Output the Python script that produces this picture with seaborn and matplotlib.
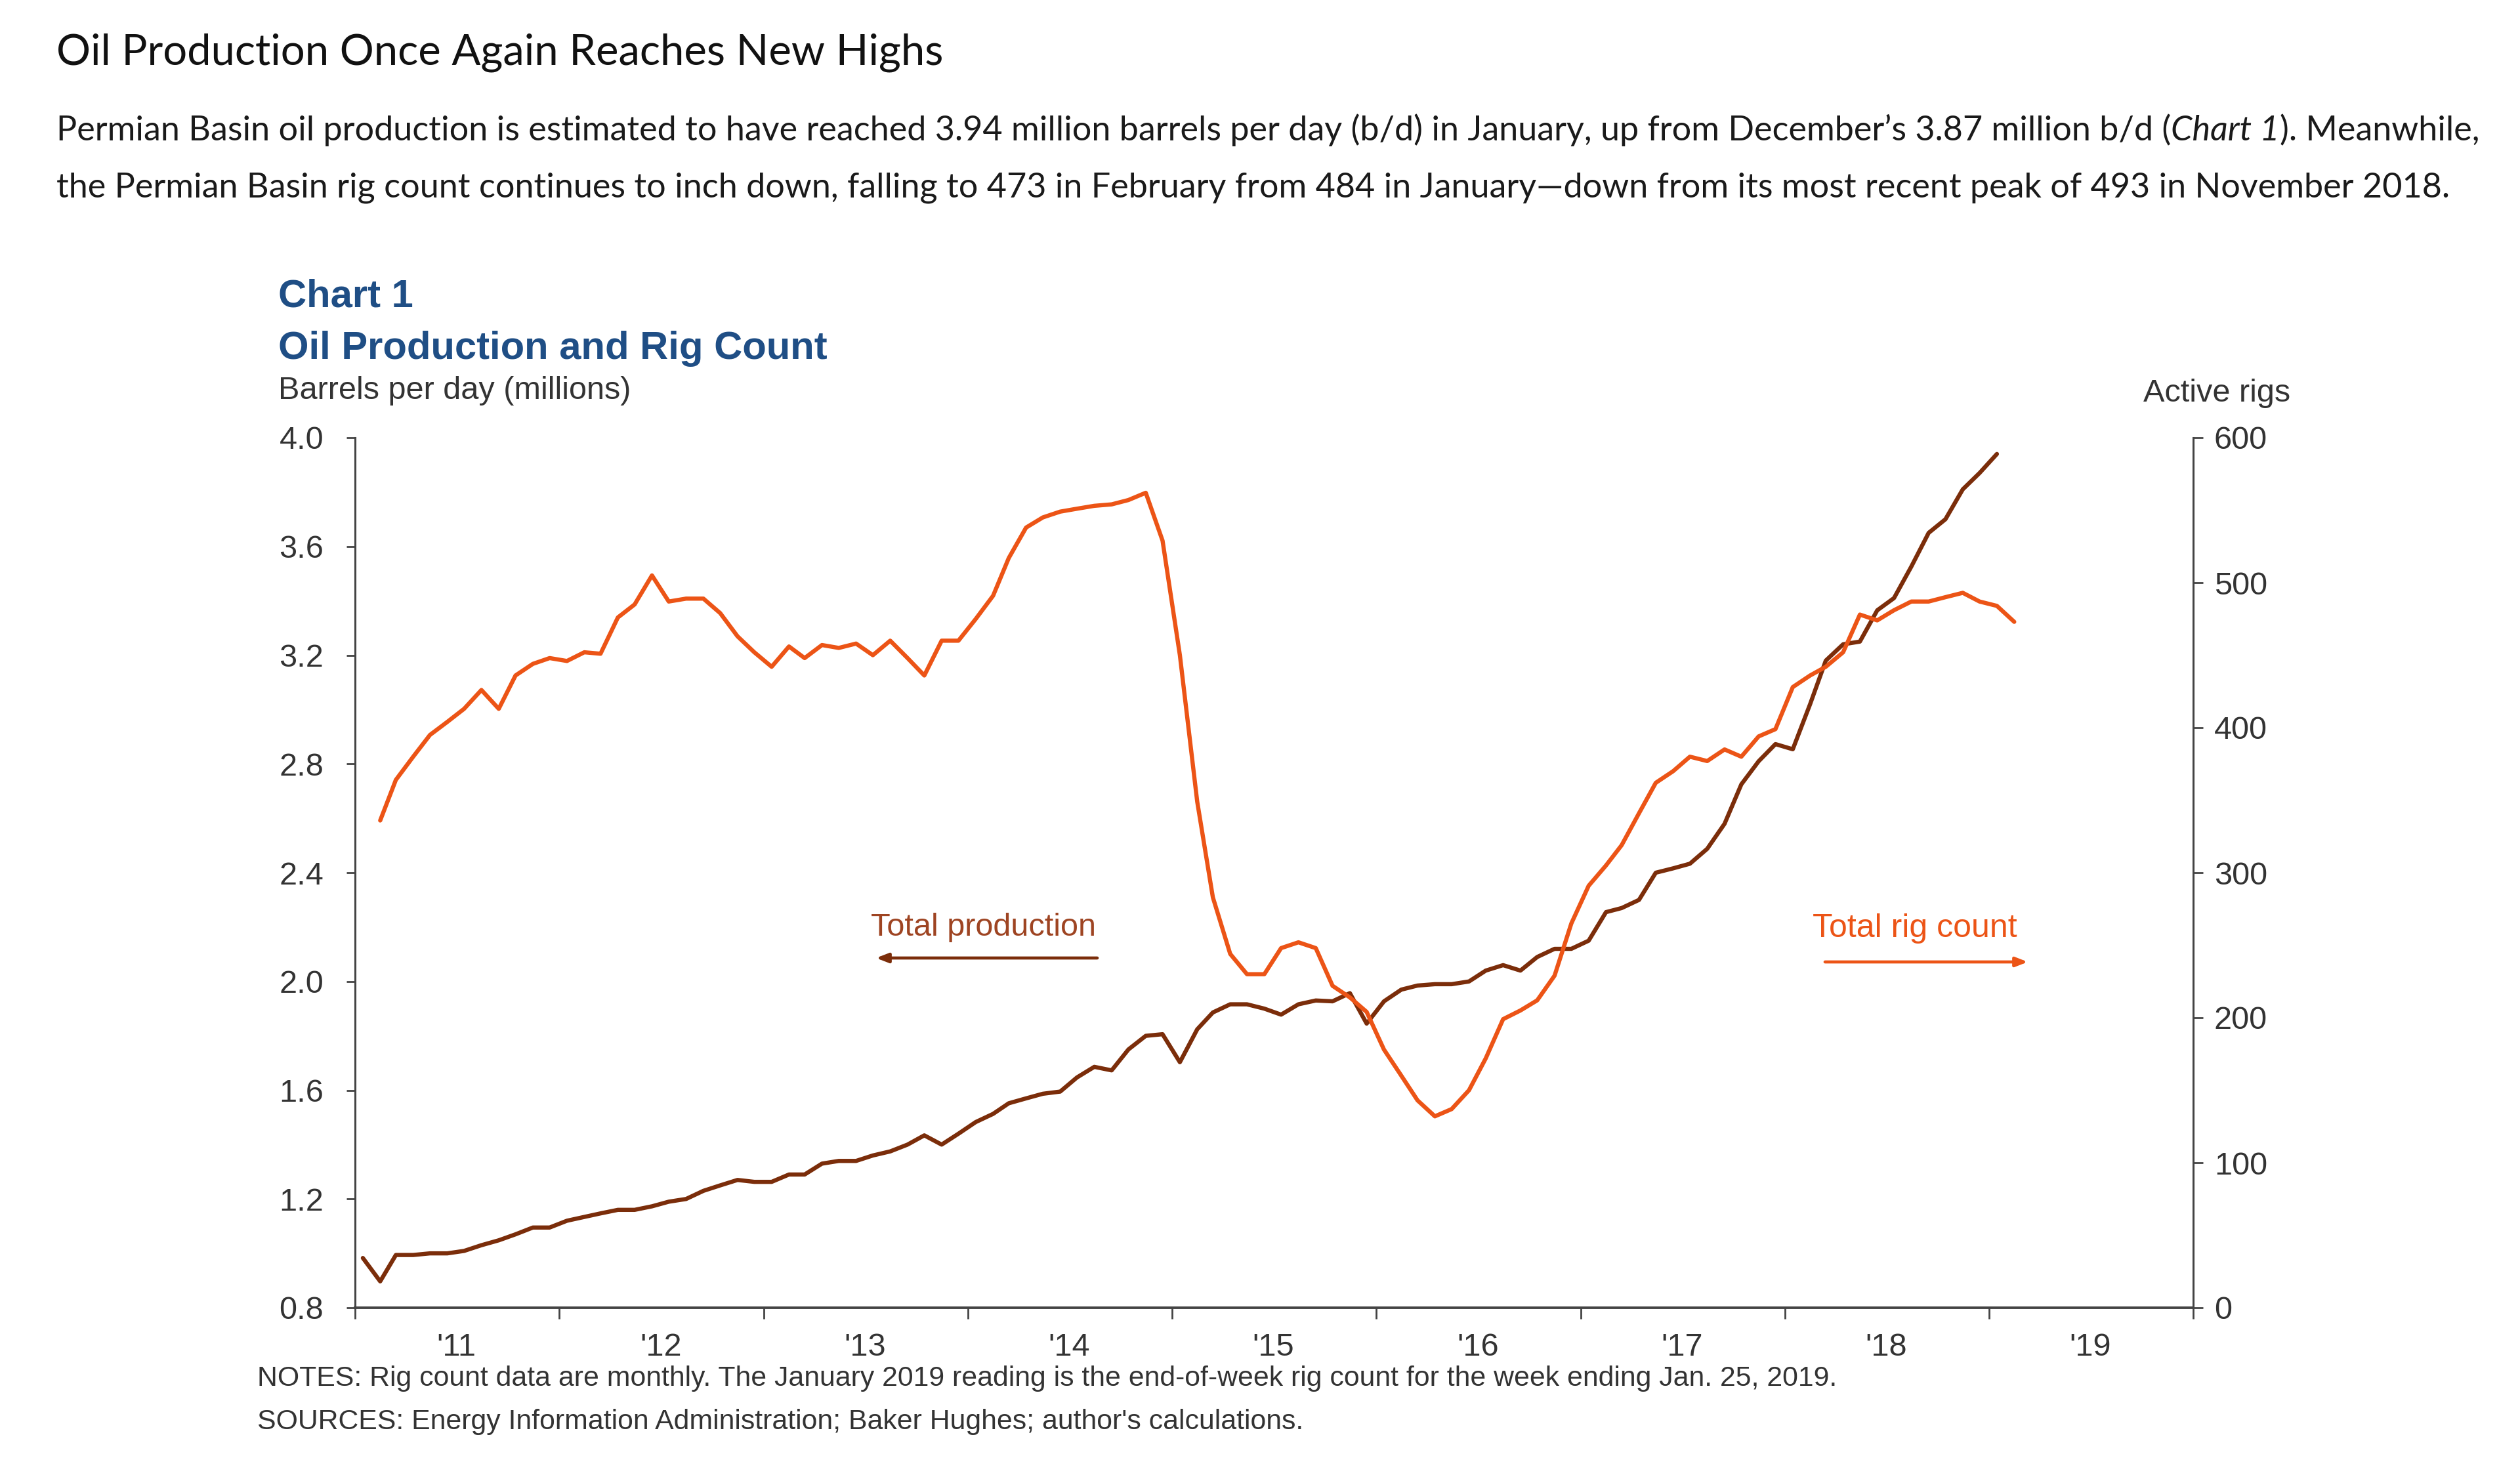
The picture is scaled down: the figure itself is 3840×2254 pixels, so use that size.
import matplotlib
matplotlib.use("Agg")
import matplotlib.pyplot as plt
import matplotlib.dates as mdates
from matplotlib.ticker import NullFormatter, FormatStrFormatter, FixedLocator
import seaborn as sns
import numpy as np
import pandas as pd

# ---------------- data ----------------
prod_start = "2011-01-01"   # production: Jan 2011 - Jan 2019 (monthly)
rig_start = "2011-02-01"    # rig count: Feb 2011 - Feb 2019 (monthly)

production = [0.983, 0.897, 0.994, 0.994, 1.000, 1.000, 1.009, 1.030, 1.048, 1.070, 1.095, 1.095,
              1.120, 1.134, 1.147, 1.160, 1.160, 1.173, 1.190, 1.200, 1.230, 1.250, 1.270, 1.263,
              1.263, 1.290, 1.290, 1.330, 1.340, 1.340, 1.360, 1.375, 1.400, 1.434, 1.400, 1.440,
              1.483, 1.513, 1.552, 1.570, 1.587, 1.595, 1.647, 1.686, 1.673, 1.750, 1.800, 1.806,
              1.703, 1.824, 1.886, 1.916, 1.916, 1.900, 1.878, 1.916, 1.930, 1.927, 1.957, 1.845,
              1.927, 1.970, 1.985, 1.990, 1.990, 2.000, 2.040, 2.060, 2.040, 2.090, 2.120, 2.120,
              2.150, 2.255, 2.270, 2.300, 2.400, 2.416, 2.433, 2.488, 2.580, 2.725, 2.810, 2.873,
              2.854, 3.020, 3.180, 3.240, 3.250, 3.365, 3.410, 3.526, 3.650, 3.700, 3.810, 3.870,
              3.940]

rig_count = [336, 364, 380, 395, 404, 413, 426, 413, 436, 444, 448, 446,
             452, 451, 476, 485, 505, 487, 489, 489, 479, 463, 452, 442,
             456, 448, 457, 455, 458, 450, 460, 448, 436, 460, 460, 475,
             491, 517, 538, 545, 549, 551, 553, 554, 557, 562, 529, 450,
             349, 283, 244, 230, 230, 248, 252, 248, 222, 214, 204, 178,
             160, 143, 132, 137, 150, 172, 199, 205, 212, 229, 265, 291,
             305, 319, 341, 362, 370, 380, 377, 385, 380, 394, 399, 428,
             436, 442, 452, 478, 474, 481, 487, 487, 490, 493, 487, 484,
             473]

left_ticks = [0.8, 1.2, 1.6, 2.0, 2.4, 2.8, 3.2, 3.6, 4.0]
right_ticks = [0, 100, 200, 300, 400, 500, 600]

title = "Oil Production Once Again Reaches New Highs"
body1 = [("Permian Basin oil production is estimated to have reached 3.94 million barrels per day (b/d) "
          "in January, up from December\u2019s 3.87 million b/d (", "normal"),
         ("Chart 1", "italic"),
         ("). Meanwhile,", "normal")]
body2 = ("the Permian Basin rig count continues to inch down, falling to 473 in February from 484 in "
         "January\u2014down from its most recent peak of 493 in November 2018.")
chart_no = "Chart 1"
chart_title = "Oil Production and Rig Count"
left_label = "Barrels per day (millions)"
right_label = "Active rigs"
prod_label = "Total production"
rig_label = "Total rig count"
notes = ("NOTES: Rig count data are monthly. The January 2019 reading is the end-of-week rig count "
         "for the week ending Jan. 25, 2019.")
sources = "SOURCES: Energy Information Administration; Baker Hughes; author's calculations."

# ---------------- style ----------------
W, H, DPI = 3840, 2254, 100
BROWN = "#7B2D0A"
BROWN_TXT = "#9E4422"
ORANGE = "#EC5416"
BLUE = "#1F4E85"
AXC = "#444444"
TXT = "#333333"

sns.set_theme(style="white")
plt.rcParams["font.family"] = ["Liberation Sans", "DejaVu Sans"]

fig = plt.figure(figsize=(W / DPI, H / DPI), dpi=DPI)
fig.patch.set_facecolor("white")
renderer = fig.canvas.get_renderer()


def fx(x):
    return x / W


def fy(y):
    return 1 - y / H


ax = fig.add_axes([fx(541), fy(1993), (3342 - 541) / W, (1993 - 667) / H])
ax2 = ax.twinx()

pm = pd.date_range(prod_start, periods=len(production), freq="MS") + pd.Timedelta(days=14)
rm = pd.date_range(rig_start, periods=len(rig_count), freq="MS") + pd.Timedelta(days=14)
df_p = pd.DataFrame({"date": pm, "value": production})
df_r = pd.DataFrame({"date": rm, "value": rig_count})

sns.lineplot(data=df_p, x="date", y="value", ax=ax, color=BROWN, linewidth=4.6)
sns.lineplot(data=df_r, x="date", y="value", ax=ax2, color=ORANGE, linewidth=4.6)

for a in (ax, ax2):
    a.set_xlabel("")
    a.set_ylabel("")
    a.grid(False)
    a.set_xlim(pd.Timestamp("2011-01-01"), pd.Timestamp("2020-01-01"))
    a.spines["top"].set_visible(False)

ax.set_ylim(0.8, 4.0)
ax2.set_ylim(0, 600)
ax.yaxis.set_major_locator(FixedLocator(left_ticks))
ax.yaxis.set_major_formatter(FormatStrFormatter("%.1f"))
ax2.yaxis.set_major_locator(FixedLocator(right_ticks))

ax.spines["left"].set_color(AXC)
ax.spines["left"].set_linewidth(2.2)
ax.spines["bottom"].set_color(AXC)
ax.spines["bottom"].set_linewidth(2.8)
ax.spines["right"].set_visible(False)
ax2.spines["left"].set_visible(False)
ax2.spines["bottom"].set_visible(False)
ax2.spines["right"].set_color(AXC)
ax2.spines["right"].set_linewidth(2.2)

ax.xaxis.set_major_locator(mdates.YearLocator())
ax.xaxis.set_major_formatter(NullFormatter())
ax.xaxis.set_minor_locator(mdates.MonthLocator(bymonth=7, bymonthday=1))
ax.xaxis.set_minor_formatter(mdates.DateFormatter("'%y"))
ax.tick_params(axis="x", which="major", direction="out", length=12, width=2, color=AXC, bottom=True)
ax.tick_params(axis="x", which="minor", length=0, pad=27, labelsize=35, labelcolor=TXT, bottom=True)
ax.tick_params(axis="y", direction="out", length=9.5, width=2, color=AXC, pad=25,
               labelsize=35, labelcolor=TXT, left=True)
ax2.tick_params(axis="y", direction="out", length=11, width=2, color=AXC, pad=12,
                labelsize=35, labelcolor=TXT, right=True)
ax2.tick_params(axis="x", which="both", bottom=False, labelbottom=False)


# ---------------- text helpers ----------------
def seg_width(s, **kw):
    t1 = fig.text(0, 0, "|" + s + "|", **kw)
    w1 = t1.get_window_extent(renderer).width
    t1.remove()
    t2 = fig.text(0, 0, "||", **kw)
    w2 = t2.get_window_extent(renderer).width
    t2.remove()
    return w1 - w2


def fitted_size(s, target, base=40, **kw):
    return base * target / seg_width(s, fontsize=base, **kw)


# header (Lato, humanist)
HF = ["Lato", "DejaVu Sans"]
ts = fitted_size(title, 1352, family=HF)
fig.text(fx(86), fy(99), title, family=HF, fontsize=ts, color="#111111", va="baseline")

full1 = "".join(s for s, _ in body1)
bs = fitted_size(full1, 3698, family=HF)
x = 86
for s, st in body1:
    fig.text(fx(x), fy(214), s, family=HF, fontsize=bs, style=st, color="#1a1a1a", va="baseline")
    x += seg_width(s, family=HF, fontsize=bs, style=st)
fig.text(fx(86), fy(300), body2, family=HF, fontsize=bs, color="#1a1a1a", va="baseline")

# chart titles
cs = fitted_size(chart_title, 835, weight="bold")
fig.text(fx(424), fy(467), chart_no, fontsize=cs, weight="bold", color=BLUE, va="baseline")
fig.text(fx(424), fy(547), chart_title, fontsize=cs, weight="bold", color=BLUE, va="baseline")

fig.text(fx(424), fy(608), left_label, fontsize=35, color=TXT, va="baseline")
fig.text(fx(3490), fy(612), right_label, fontsize=35, color=TXT, va="baseline", ha="right")

# series labels with arrows
fig.text(fx(1670), fy(1426), prod_label, fontsize=35, color=BROWN_TXT, va="baseline", ha="right")
ax.annotate("", xy=(1335, H - 1460), xytext=(1672, H - 1460), xycoords="figure pixels",
            textcoords="figure pixels",
            arrowprops=dict(arrowstyle="-|>,head_length=0.9,head_width=0.35", color=BROWN, lw=3.4,
                            shrinkA=0, shrinkB=0))
rls = fitted_size(rig_label, 318)
fig.text(fx(2762), fy(1428), rig_label, fontsize=min(rls, 36), color=ORANGE, va="baseline", ha="left")
ax.annotate("", xy=(3090, H - 1466), xytext=(2781, H - 1466), xycoords="figure pixels",
            textcoords="figure pixels",
            arrowprops=dict(arrowstyle="-|>,head_length=0.9,head_width=0.35", color=ORANGE, lw=3.4,
                            shrinkA=0, shrinkB=0))

# notes
ns = fitted_size(notes, 2405)
fig.text(fx(392), fy(2101), notes, fontsize=ns, color=TXT, va="center")
fig.text(fx(392), fy(2167), sources, fontsize=ns, color=TXT, va="center")

fig.savefig("out.png", dpi=DPI, facecolor="white")
